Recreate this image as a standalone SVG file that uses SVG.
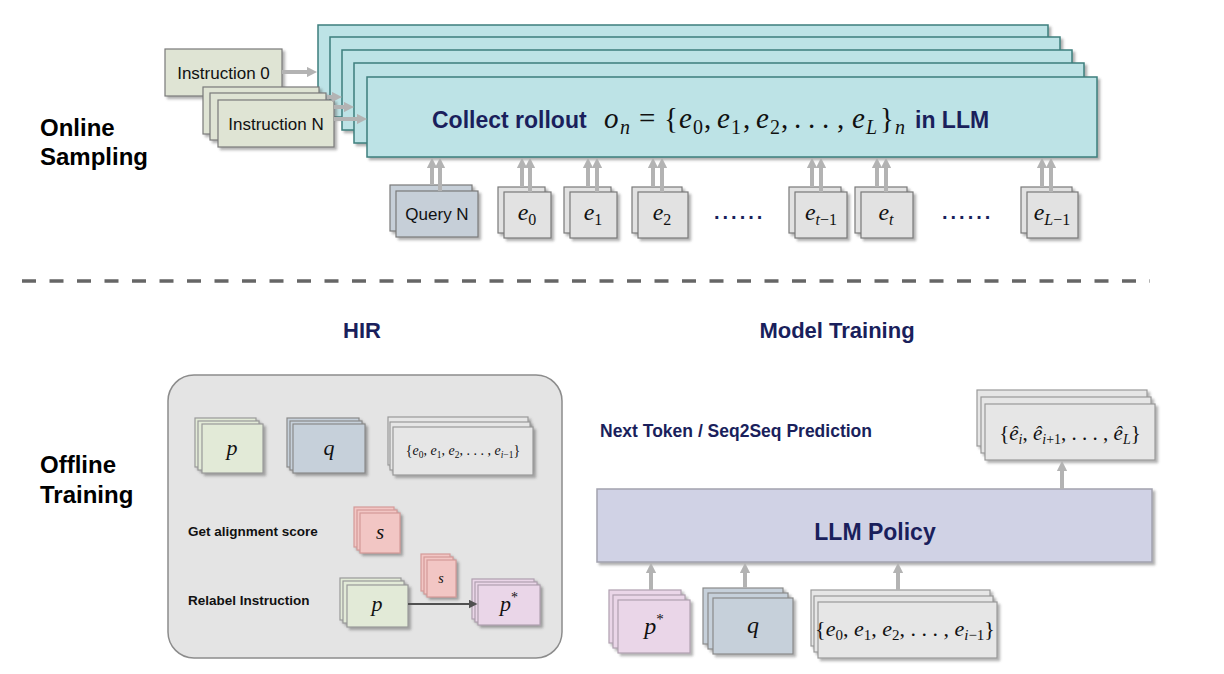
<svg xmlns="http://www.w3.org/2000/svg" width="1224" height="674" viewBox="0 0 1224 674">
<defs>
<filter id="sh" x="-10%" y="-10%" width="130%" height="140%">
<feDropShadow dx="2.5" dy="2.5" stdDeviation="1.3" flood-color="#555" flood-opacity="0.45"/>
</filter>
<marker id="ah" viewBox="0 0 10 10" refX="5" refY="5" markerWidth="2.6" markerHeight="2.6" orient="auto"><path d="M0,0 L10,5 L0,10 z" fill="#b3b3b3"/></marker>
<marker id="ahd" viewBox="0 0 10 10" refX="5" refY="5" markerWidth="4.5" markerHeight="4.5" orient="auto"><path d="M0,0 L10,5 L0,10 z" fill="#505050"/></marker>
<style>
rect{filter:url(#sh)}
.teal{fill:#bde3e6;stroke:#3d7f7d;stroke-width:1.5}
.ins{fill:#dfe4d4;stroke:#7a7a7a;stroke-width:1.2}
.qry{fill:#c6cfd8;stroke:#7a7a7a;stroke-width:1.2}
.eb{fill:#e2e2e2;stroke:#7a7a7a;stroke-width:1.2}
.pg{fill:#e2ead7;stroke:#999;stroke-width:1.2}
.qb{fill:#c6d0da;stroke:#8a8a8a;stroke-width:1.2}
.gb{fill:#e6e6e6;stroke:#999;stroke-width:1.2}
.sb{fill:#f2c6c4;stroke:#d49a98;stroke-width:1.2}
.ps{fill:#ead6e8;stroke:#b0a0b0;stroke-width:1.2}
.llm{fill:#d0d2e5;stroke:#a2a2ae;stroke-width:1.5}
.hir{fill:#e4e4e4;stroke:#8c8c8c;stroke-width:1.5;filter:none}
.arr{stroke:#b3b3b3;stroke-width:4;fill:none;marker-end:url(#ah)}
.arrd{stroke:#505050;stroke-width:2;fill:none;marker-end:url(#ahd)}
.lbl{font-family:"Liberation Sans",Arial,sans-serif;font-weight:bold;font-size:24px;fill:#000}
.nav{font-family:"Liberation Sans",Arial,sans-serif;font-weight:bold;fill:#1a1f5c}
.sans{font-family:"Liberation Sans",Arial,sans-serif;font-size:17px;fill:#111}
.bk{font-family:"Liberation Sans",Arial,sans-serif;font-weight:bold;font-size:13.5px;fill:#111}
.m{font-family:"Liberation Serif","Times New Roman",serif;fill:#111}
.i{font-style:italic}
</style>
</defs>

<g id="labels">
<text class="lbl" x="40" y="136">Online</text>
<text class="lbl" x="40" y="165">Sampling</text>
<text class="lbl" x="40" y="473">Offline</text>
<text class="lbl" x="40" y="503">Training</text>
<text class="nav" x="362" y="338" font-size="22" text-anchor="middle">HIR</text>
<text class="nav" x="837" y="338" font-size="22" text-anchor="middle">Model Training</text>
<text class="nav" x="600" y="437" font-size="17.5">Next Token / Seq2Seq Prediction</text>
</g>

<line id="divider" x1="22" y1="281" x2="1150" y2="281" stroke="#666" stroke-width="3.5" stroke-dasharray="14 13.5"/>

<g id="rollout">
<rect class="teal" x="318" y="25" width="730" height="80"/>
<rect class="teal" x="330" y="37" width="730" height="80"/>
<rect class="teal" x="342" y="50" width="730" height="80"/>
<rect class="teal" x="354" y="63" width="730" height="80"/>
<rect class="teal" x="367" y="77" width="730" height="80"/>
<text class="nav" x="432" y="128" font-size="23">Collect rollout</text>
<text class="m" y="128" font-size="29">
<tspan x="604" class="i">o</tspan><tspan x="620" dy="6" font-size="20" class="i">n</tspan>
<tspan x="639" dy="-6">=</tspan>
<tspan x="664">{</tspan>
<tspan x="679" class="i">e</tspan><tspan x="693" dy="6" font-size="20">0</tspan><tspan x="704" dy="-6">,</tspan>
<tspan x="717" class="i">e</tspan><tspan x="731" dy="6" font-size="20">1</tspan><tspan x="743" dy="-6">,</tspan>
<tspan x="756" class="i">e</tspan><tspan x="770" dy="6" font-size="20">2</tspan><tspan x="781" dy="-6">,</tspan>
<tspan x="794">.</tspan><tspan x="808">.</tspan><tspan x="822">.</tspan><tspan x="837">,</tspan>
<tspan x="852" class="i">e</tspan><tspan x="866" dy="6" font-size="20" class="i">L</tspan>
<tspan x="880" dy="-6">}</tspan><tspan x="895" dy="6" font-size="20" class="i">n</tspan>
</text>
<text class="nav" x="915" y="128" font-size="23">in LLM</text>
</g>

<g id="instruction0">
<rect class="ins" x="165" y="49" width="117" height="47"/>
<text class="sans" x="223.5" y="79" text-anchor="middle">Instruction 0</text>
</g>

<g id="instructionN">
<rect class="ins" x="203" y="87" width="116" height="47"/>
<rect class="ins" x="210" y="93" width="116" height="47"/>
<rect class="ins" x="218" y="100" width="116" height="47"/>
<text class="sans" x="276" y="130" text-anchor="middle">Instruction N</text>
</g>

<g id="queryN">
<rect class="qry" x="390" y="185" width="82" height="46"/>
<rect class="qry" x="396" y="191" width="82" height="46"/>
<text class="sans" x="437" y="220" text-anchor="middle">Query N</text>
</g>

<g id="e0">
<rect class="eb" x="498" y="187" width="47" height="46"/>
<rect class="eb" x="504" y="192" width="47" height="46"/>
<text class="m" x="527" y="220" font-size="24" text-anchor="middle"><tspan class="i">e</tspan><tspan dy="5" font-size="16">0</tspan></text>
</g>
<g id="e1">
<rect class="eb" x="564" y="187" width="47" height="46"/>
<rect class="eb" x="570" y="192" width="47" height="46"/>
<text class="m" x="593" y="220" font-size="24" text-anchor="middle"><tspan class="i">e</tspan><tspan dy="5" font-size="16">1</tspan></text>
</g>
<g id="e2">
<rect class="eb" x="632" y="187" width="50" height="46"/>
<rect class="eb" x="638" y="192" width="50" height="46"/>
<text class="m" x="662" y="220" font-size="24" text-anchor="middle"><tspan class="i">e</tspan><tspan dy="5" font-size="16">2</tspan></text>
</g>
<text id="dots1" class="nav" x="714" y="219" font-size="20" letter-spacing="3">......</text>
<g id="et1">
<rect class="eb" x="789" y="187" width="52" height="46"/>
<rect class="eb" x="795" y="192" width="52" height="46"/>
<text class="m" x="821" y="220" font-size="24" text-anchor="middle"><tspan class="i">e</tspan><tspan dy="5" font-size="16" class="i">t</tspan><tspan font-size="16">−1</tspan></text>
</g>
<g id="et">
<rect class="eb" x="855" y="187" width="52" height="46"/>
<rect class="eb" x="861" y="192" width="52" height="46"/>
<text class="m" x="886" y="220" font-size="24" text-anchor="middle"><tspan class="i">e</tspan><tspan dy="5" font-size="16" class="i">t</tspan></text>
</g>
<text id="dots2" class="nav" x="942" y="219" font-size="20" letter-spacing="3">......</text>
<g id="eL1">
<rect class="eb" x="1021" y="187" width="51" height="46"/>
<rect class="eb" x="1027" y="192" width="51" height="46"/>
<text class="m" x="1052" y="220" font-size="24" text-anchor="middle"><tspan class="i">e</tspan><tspan dy="5" font-size="16" class="i">L</tspan><tspan font-size="16">−1</tspan></text>
</g>

<g id="hir">
<rect class="hir" x="168" y="375" width="394" height="283" rx="26"/>
<text class="bk" x="188" y="536">Get alignment score</text>
<text class="bk" x="188" y="605">Relabel Instruction</text>
</g>

<g id="hir-p">
<rect class="pg" x="195" y="418" width="61" height="49"/>
<rect class="pg" x="198" y="421" width="61" height="49"/>
<rect class="pg" x="202" y="424" width="61" height="49"/>
<text class="m i" x="232" y="455" font-size="22" text-anchor="middle">p</text>
</g>
<g id="hir-q">
<rect class="qb" x="287" y="418" width="72" height="49"/>
<rect class="qb" x="290" y="421" width="72" height="49"/>
<rect class="qb" x="293" y="424" width="72" height="49"/>
<text class="m i" x="329" y="455" font-size="22" text-anchor="middle">q</text>
</g>
<g id="hir-e">
<rect class="gb" x="388" y="417" width="140" height="48"/>
<rect class="gb" x="390" y="422" width="140" height="48"/>
<rect class="gb" x="393" y="427" width="140" height="48"/>
<text class="m" x="463" y="455" font-size="14" text-anchor="middle">{<tspan class="i">e</tspan><tspan dy="3" font-size="9.5">0</tspan><tspan dy="-3">, </tspan><tspan class="i">e</tspan><tspan dy="3" font-size="9.5">1</tspan><tspan dy="-3">, </tspan><tspan class="i">e</tspan><tspan dy="3" font-size="9.5">2</tspan><tspan dy="-3">, . . . , </tspan><tspan class="i">e</tspan><tspan dy="3" font-size="9.5" class="i">i</tspan><tspan font-size="9.5">−1</tspan><tspan dy="-3">}</tspan></text>
</g>
<g id="hir-s">
<rect class="sb" x="354" y="507" width="40" height="40"/>
<rect class="sb" x="357" y="510" width="40" height="40"/>
<rect class="sb" x="360" y="513" width="40" height="40"/>
<text class="m i" x="380" y="539" font-size="21" text-anchor="middle">s</text>
</g>
<g id="relabel-p">
<rect class="pg" x="340" y="578" width="61" height="42"/>
<rect class="pg" x="343" y="581" width="61" height="42"/>
<rect class="pg" x="347" y="585" width="61" height="42"/>
<text class="m i" x="377" y="611" font-size="22" text-anchor="middle">p</text>
</g>
<g id="relabel-s">
<rect class="sb" x="421" y="554" width="29" height="37"/>
<rect class="sb" x="424" y="557" width="29" height="37"/>
<rect class="sb" x="427" y="560" width="29" height="37"/>
<text class="m i" x="441" y="583" font-size="14" text-anchor="middle">s</text>
</g>
<g id="relabel-pstar">
<rect class="ps" x="472" y="579" width="62" height="40"/>
<rect class="ps" x="475" y="582" width="62" height="40"/>
<rect class="ps" x="478" y="585" width="62" height="40"/>
<text class="m" x="509" y="611" font-size="22" text-anchor="middle"><tspan class="i">p</tspan><tspan dy="-9" font-size="14">*</tspan></text>
</g>

<g id="output">
<rect class="gb" x="977" y="390" width="170" height="56"/>
<rect class="gb" x="981" y="397" width="170" height="56"/>
<rect class="gb" x="985" y="404" width="170" height="56"/>
<text class="m" x="1070" y="440" font-size="21" text-anchor="middle">{<tspan class="i">ê</tspan><tspan dy="4" font-size="14" class="i">i</tspan><tspan dy="-4">, </tspan><tspan class="i">ê</tspan><tspan dy="4" font-size="14" class="i">i</tspan><tspan font-size="14">+1</tspan><tspan dy="-4">, . . . , </tspan><tspan class="i">ê</tspan><tspan dy="4" font-size="14" class="i">L</tspan><tspan dy="-4">}</tspan></text>
</g>

<g id="llm">
<rect class="llm" x="597" y="489" width="555" height="73"/>
<text class="nav" x="875" y="540" font-size="23" text-anchor="middle">LLM Policy</text>
</g>

<g id="in-pstar">
<rect class="ps" x="609" y="590" width="72" height="53"/>
<rect class="ps" x="613" y="595" width="72" height="53"/>
<rect class="ps" x="618" y="600" width="72" height="53"/>
<text class="m" x="654" y="634" font-size="24" text-anchor="middle"><tspan class="i">p</tspan><tspan dy="-10" font-size="15">*</tspan></text>
</g>
<g id="in-q">
<rect class="qb" x="703" y="588" width="80" height="56"/>
<rect class="qb" x="708" y="593" width="80" height="56"/>
<rect class="qb" x="713" y="598" width="80" height="56"/>
<text class="m i" x="753" y="633" font-size="24" text-anchor="middle">q</text>
</g>
<g id="in-e">
<rect class="gb" x="811" y="590" width="179" height="56"/>
<rect class="gb" x="814" y="596" width="179" height="56"/>
<rect class="gb" x="818" y="602" width="179" height="56"/>
<text class="m" x="905" y="636" font-size="22" text-anchor="middle">{<tspan class="i">e</tspan><tspan dy="4" font-size="15">0</tspan><tspan dy="-4">, </tspan><tspan class="i">e</tspan><tspan dy="4" font-size="15">1</tspan><tspan dy="-4">, </tspan><tspan class="i">e</tspan><tspan dy="4" font-size="15">2</tspan><tspan dy="-4">, . . . , </tspan><tspan class="i">e</tspan><tspan dy="4" font-size="15" class="i">i</tspan><tspan font-size="15">−1</tspan><tspan dy="-4">}</tspan></text>
</g>

<g id="connectors">
<line class="arr" x1="282" y1="72" x2="312" y2="72"/>
<line class="arr" x1="327" y1="97" x2="337" y2="97"/>
<line class="arr" x1="334" y1="107" x2="349" y2="107"/>
<line class="arr" x1="334" y1="119" x2="362" y2="119"/>
<line class="arr" x1="432" y1="185" x2="432" y2="163"/>
<line class="arr" x1="440" y1="191" x2="440" y2="163"/>
<line class="arr" x1="522" y1="187" x2="522" y2="163"/>
<line class="arr" x1="530" y1="192" x2="530" y2="163"/>
<line class="arr" x1="588" y1="187" x2="588" y2="163"/>
<line class="arr" x1="597" y1="192" x2="597" y2="163"/>
<line class="arr" x1="653" y1="187" x2="653" y2="163"/>
<line class="arr" x1="662" y1="192" x2="662" y2="163"/>
<line class="arr" x1="812" y1="187" x2="812" y2="163"/>
<line class="arr" x1="821" y1="192" x2="821" y2="163"/>
<line class="arr" x1="877" y1="187" x2="877" y2="163"/>
<line class="arr" x1="886" y1="192" x2="886" y2="163"/>
<line class="arr" x1="1042" y1="187" x2="1042" y2="163"/>
<line class="arr" x1="1051" y1="192" x2="1051" y2="163"/>
<line class="arr" x1="1062" y1="489" x2="1062" y2="466"/>
<line class="arr" x1="651" y1="590" x2="651" y2="568"/>
<line class="arr" x1="745" y1="588" x2="745" y2="568"/>
<line class="arr" x1="898" y1="590" x2="898" y2="568"/>
<line class="arrd" x1="408" y1="604" x2="473" y2="604"/>
</g>
</svg>
